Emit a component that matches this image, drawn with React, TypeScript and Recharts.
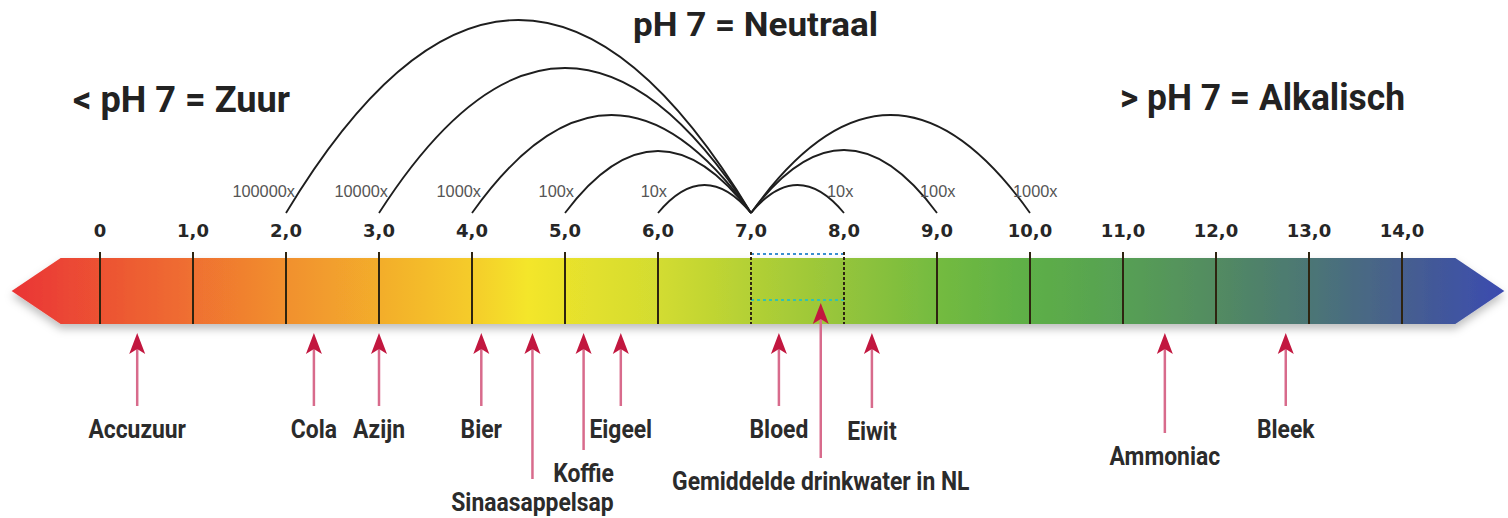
import { ComposedChart, XAxis, YAxis, ReferenceArea, ReferenceLine, Scatter } from "recharts";

// pH scale ticks
const phTicks = [0, 1, 2, 3, 4, 5, 6, 7, 8, 9, 10, 11, 12, 13, 14];
const tickLabels = ["0", "1,0", "2,0", "3,0", "4,0", "5,0", "6,0", "7,0", "8,0", "9,0", "10,0", "11,0", "12,0", "13,0", "14,0"];

// arcs, all ending at pH 7
const arcFrom = [2, 3, 4, 5, 6, 8, 9, 10];
const arcLabels = ["100000x", "10000x", "1000x", "100x", "10x", "10x", "100x", "1000x"];
const arcRise = [193, 145, 98, 62, 28, 28, 63, 98];

// substances and their pH
const sampleNames = [
  "Accuzuur", "Cola", "Azijn", "Bier", "Sinaasappelsap", "Koffie", "Eigeel",
  "Bloed", "Gemiddelde drinkwater in NL", "Eiwit", "Ammoniac", "Bleek",
];
const samplePh = [0.4, 2.3, 3.0, 4.1, 4.65, 5.2, 5.6, 7.3, 7.75, 8.3, 11.45, 12.75];

const drinkwaterRange = [7, 8];

// layout (y positions in px, the y axis runs top-down)
const W = 1508;
const H = 518;
const BAR_TOP = 258;
const BAR_BOTTOM = 324;
const ARC_BASE = 213;
const ARROW_TIP = 333;
const labelBaseline: Record<string, number> = {
  Sinaasappelsap: 511,
  Koffie: 482,
  "Gemiddelde drinkwater in NL": 490,
  Eiwit: 440,
  Ammoniac: 465,
};
const tipOverride: Record<string, number> = { "Gemiddelde drinkwater in NL": 303 };

// colour ramp of the bar
const rampPh = [-0.95, 0, 1, 2, 3, 4, 4.6, 5, 6, 7, 8, 9, 10, 11, 12, 13, 14, 15.1];
const rampColor = [
  "#ea3436", "#ec5233", "#ef7030", "#f1902e", "#f3ad2c", "#f5cc2a", "#f4e62a", "#e9e22c",
  "#d3dc30", "#b3d035", "#94c43b", "#74bb40", "#5daf47", "#57a054", "#528b61", "#4c7675",
  "#465f8e", "#3b4bb0",
];

const BAR_FROM = -0.95;
const BAR_TO = 15.1;

const condensed = "Roboto, 'Liberation Sans', sans-serif";

function BarShape(props: any) {
  const { x, y, width, height } = props;
  const tip = 49;
  const mid = y + height / 2;
  const pts = [
    [x, mid],
    [x + tip, y],
    [x + width - tip, y],
    [x + width, mid],
    [x + width - tip, y + height],
    [x + tip, y + height],
  ]
    .map((p) => p.join(","))
    .join(" ");
  return (
    <g>
      <defs>
        <linearGradient id="phRamp" x1="0" y1="0" x2="1" y2="0">
          {rampPh.map((p, i) => (
            <stop key={i} offset={(p - BAR_FROM) / (BAR_TO - BAR_FROM)} stopColor={rampColor[i]} />
          ))}
        </linearGradient>
        <filter id="barShadow" x="-5%" y="-40%" width="110%" height="190%">
          <feDropShadow dx="0" dy="5" stdDeviation="4" floodColor="#000" floodOpacity="0.25" />
        </filter>
      </defs>
      <polygon points={pts} fill="url(#phRamp)" filter="url(#barShadow)" />
    </g>
  );
}

function ArcShape(props: any) {
  const { x, y, width, height, label, left } = props;
  const base = y + height;
  const d = `M ${x} ${base} Q ${x + width / 2} ${y - height} ${x + width} ${base}`;
  const tx = left ? x + 9 : x + width - 17;
  return (
    <g>
      <path d={d} fill="none" stroke="#1e1e1e" strokeWidth={1.8} />
      <text
        transform={`translate(${tx} 197) scale(1.02 1)`}
        x={0}
        y={0}
        textAnchor={left ? "end" : "start"}
        fontFamily="'Liberation Sans', sans-serif"
        fontSize={16}
        fill="#555"
      >
        {label}
      </text>
    </g>
  );
}

function BoxShape(props: any) {
  const { x, y, width, height } = props;
  return (
    <g>
      <line x1={x} y1={y} x2={x + width} y2={y} stroke="#3b8fd0" strokeWidth={2} strokeDasharray="3 3" />
      <line x1={x} y1={y + height} x2={x + width} y2={y + height} stroke="#33c2b0" strokeWidth={2} strokeDasharray="3 3" />
    </g>
  );
}

function TickLabel(props: any) {
  const { cx, cy, payload } = props;
  return (
    <text x={cx} y={cy} textAnchor="middle" fontFamily="'DejaVu Sans', sans-serif" fontWeight={700} fontSize={18} fill="#262626">
      {payload.label}
    </text>
  );
}

function SampleArrow(props: any) {
  const { cx, cy, payload } = props;
  const baseline = payload.baseline;
  const end = baseline - 32;
  return (
    <g>
      <line x1={cx} y1={cy + 14} x2={cx} y2={end} stroke="#d86b8c" strokeWidth={2.5} />
      <path d={`M ${cx} ${cy} L ${cx + 8} ${cy + 21} L ${cx} ${cy + 16} L ${cx - 8} ${cy + 21} Z`} fill="#c2173f" />
      <text
        transform={`translate(${cx} ${baseline}) scale(0.88 1)`}
        x={0}
        y={0}
        textAnchor="middle"
        fontFamily={condensed}
        fontWeight={700}
        fontSize={26}
        fill="#2b2b2b"
      >
        {payload.name}
      </text>
    </g>
  );
}

export default function App() {
  const tickData = phTicks.map((v, i) => ({ x: v, y: 237, label: tickLabels[i] }));
  const sampleData = sampleNames.map((name, i) => ({
    x: samplePh[i],
    y: tipOverride[name] ?? ARROW_TIP,
    name,
    baseline: labelBaseline[name] ?? 438,
  }));

  return (
    <div style={{ position: "absolute", left: 0, top: 0, width: W, height: H, background: "#fff" }}>
      <ComposedChart width={W} height={H} margin={{ top: 0, right: 0, bottom: 0, left: 0 }}>
        <XAxis type="number" dataKey="x" domain={[-100 / 93, 1408 / 93]} allowDataOverflow hide />
        <YAxis type="number" dataKey="y" domain={[0, H]} reversed allowDataOverflow hide />

        {/* arcs above the scale */}
        {arcFrom.map((from, i) => (
          <ReferenceArea
            key={`arc-${i}`}
            x1={Math.min(from, 7)}
            x2={Math.max(from, 7)}
            y1={ARC_BASE}
            y2={ARC_BASE - arcRise[i]}
            shape={(p: any) => <ArcShape {...p} label={arcLabels[i]} left={from < 7} />}
          />
        ))}

        {/* coloured bar */}
        <ReferenceArea x1={BAR_FROM} x2={BAR_TO} y1={BAR_TOP} y2={BAR_BOTTOM} shape={(p: any) => <BarShape {...p} />} />

        {phTicks.map((t) => {
          const edge = t === drinkwaterRange[0] || t === drinkwaterRange[1];
          return (
            <ReferenceLine
              key={`tick-${t}`}
              segment={[{ x: t, y: 252 }, { x: t, y: BAR_BOTTOM }]}
              stroke="#2e2410"
              strokeWidth={2}
              strokeDasharray={edge ? "3 2" : undefined}
            />
          );
        })}

        <ReferenceArea
          x1={drinkwaterRange[0]}
          x2={drinkwaterRange[1]}
          y1={254}
          y2={300}
          shape={(p: any) => <BoxShape {...p} />}
        />

        <Scatter data={tickData} dataKey="y" isAnimationActive={false} shape={(p: any) => <TickLabel {...p} />} />
        <Scatter data={sampleData} dataKey="y" isAnimationActive={false} shape={(p: any) => <SampleArrow {...p} />} />

        <text x={73} y={112} fontFamily={condensed} fontWeight={700} fontSize={37} fill="#222" textLength={217} lengthAdjust="spacingAndGlyphs">
          {"< pH 7 = Zuur"}
        </text>
        <text x={633} y={36} fontFamily={condensed} fontWeight={700} fontSize={33} fill="#222" textLength={245} lengthAdjust="spacingAndGlyphs">
          pH 7 = Neutraal
        </text>
        <text x={1120} y={110} fontFamily={condensed} fontWeight={700} fontSize={37} fill="#222" textLength={285} lengthAdjust="spacingAndGlyphs">
          {"> pH 7 = Alkalisch"}
        </text>
      </ComposedChart>
    </div>
  );
}
